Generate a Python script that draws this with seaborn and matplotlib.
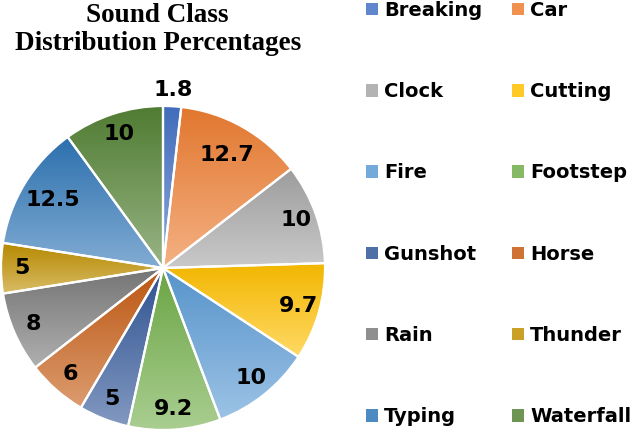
import numpy as np
import matplotlib
matplotlib.use("Agg")
import matplotlib.pyplot as plt
import seaborn as sns
from matplotlib.patches import Patch
from matplotlib.colors import to_rgb

categories = ["Breaking", "Car", "Clock", "Cutting", "Fire", "Footstep",
              "Gunshot", "Horse", "Rain", "Thunder", "Typing", "Waterfall"]
values = [1.8, 12.7, 10, 9.7, 10, 9.2, 5, 6, 8, 5, 12.5, 10]
value_labels = ["1.8", "12.7", "10", "9.7", "10", "9.2", "5", "6", "8", "5", "12.5", "10"]
colors = ["#4472C4", "#ED7D31", "#A5A5A5", "#FFC000", "#5B9BD5", "#70AD47",
          "#2F5597", "#C55A11", "#7B7B7B", "#BF9000", "#2E75B6", "#548235"]
title_lines = ["Sound Class", "Distribution Percentages"]

sns.set_theme(style="white")
plt.rcParams['font.family'] = ['DejaVu Sans']
plt.rcParams['text.color'] = 'black'

W, H = 634, 432
fig = plt.figure(figsize=(W / 100, H / 100), dpi=100)
fig.patch.set_facecolor("white")

# pie axes: center (163,268) radius 162 px
cx, cy, r = 163, 268, 162
ax = fig.add_axes([(cx - r) / W, (H - cy - r) / H, 2 * r / W, 2 * r / H])
wedges, _ = ax.pie(values, colors=colors, startangle=90, counterclock=False,
                   radius=1, wedgeprops=dict(edgecolor="white", linewidth=1.6))


def shade(c, f):
    c = np.array(to_rgb(c))
    return c * f


def tint(c, f):
    c = np.array(to_rgb(c))
    return c + (1 - c) * f


for w, c in zip(wedges, colors):
    bb = w.get_path().get_extents()
    top = shade(c, 0.95)
    bot = tint(c, 0.4)
    t = np.linspace(0, 1, 256)[:, None]
    grad = (top[None, :] * (1 - t) + bot[None, :] * t)[:, None, :]
    im = ax.imshow(grad, extent=[bb.x0, bb.x1, bb.y0, bb.y1], origin="upper",
                   aspect="auto", zorder=2, interpolation="bilinear")
    im.set_clip_path(w)
    w.set_facecolor("none")
    w.set_zorder(3)

ax.set_xlim(-1, 1)
ax.set_ylim(-1, 1)
ax.set_aspect("equal")
ax.axis("off")

for w, v, lab in zip(wedges, values, value_labels):
    mid = (w.theta1 + w.theta2) / 2
    d = 1.1 if v < 3 else (0.8 if v > 12 else 0.87)
    ang = np.deg2rad(mid)
    ax.text(d * np.cos(ang), d * np.sin(ang), lab, ha="center", va="center",
            fontsize=16, fontweight="bold", color="black", zorder=5)

# title
fig.text(157 / W, 1 - 16 / H, title_lines[0], ha="center", va="center",
         fontsize=19.5, fontweight="bold", family="Liberation Serif", color="black")
fig.text(158 / W, 1 - 44 / H, title_lines[1], ha="center", va="center",
         fontsize=19.5, fontweight="bold", family="Liberation Serif", color="black")

# legend, row-wise order
handles = [Patch(facecolor=tint(c, 0.15), edgecolor="none") for c in colors]
order = [0, 2, 4, 6, 8, 10, 1, 3, 5, 7, 9, 11]
leg = fig.legend([handles[i] for i in order], [categories[i] for i in order],
                 ncol=2, loc="upper left", bbox_to_anchor=(366 / W, 1 - 1 / H),
                 frameon=False, borderpad=0, borderaxespad=0,
                 handlelength=0.62, handleheight=0.62, handletextpad=0.3,
                 columnspacing=1.55, labelspacing=3.2,
                 prop=dict(size=14, weight="bold"))
for txt in leg.get_texts():
    txt.set_color("black")

fig.savefig("out.png", dpi=100)
